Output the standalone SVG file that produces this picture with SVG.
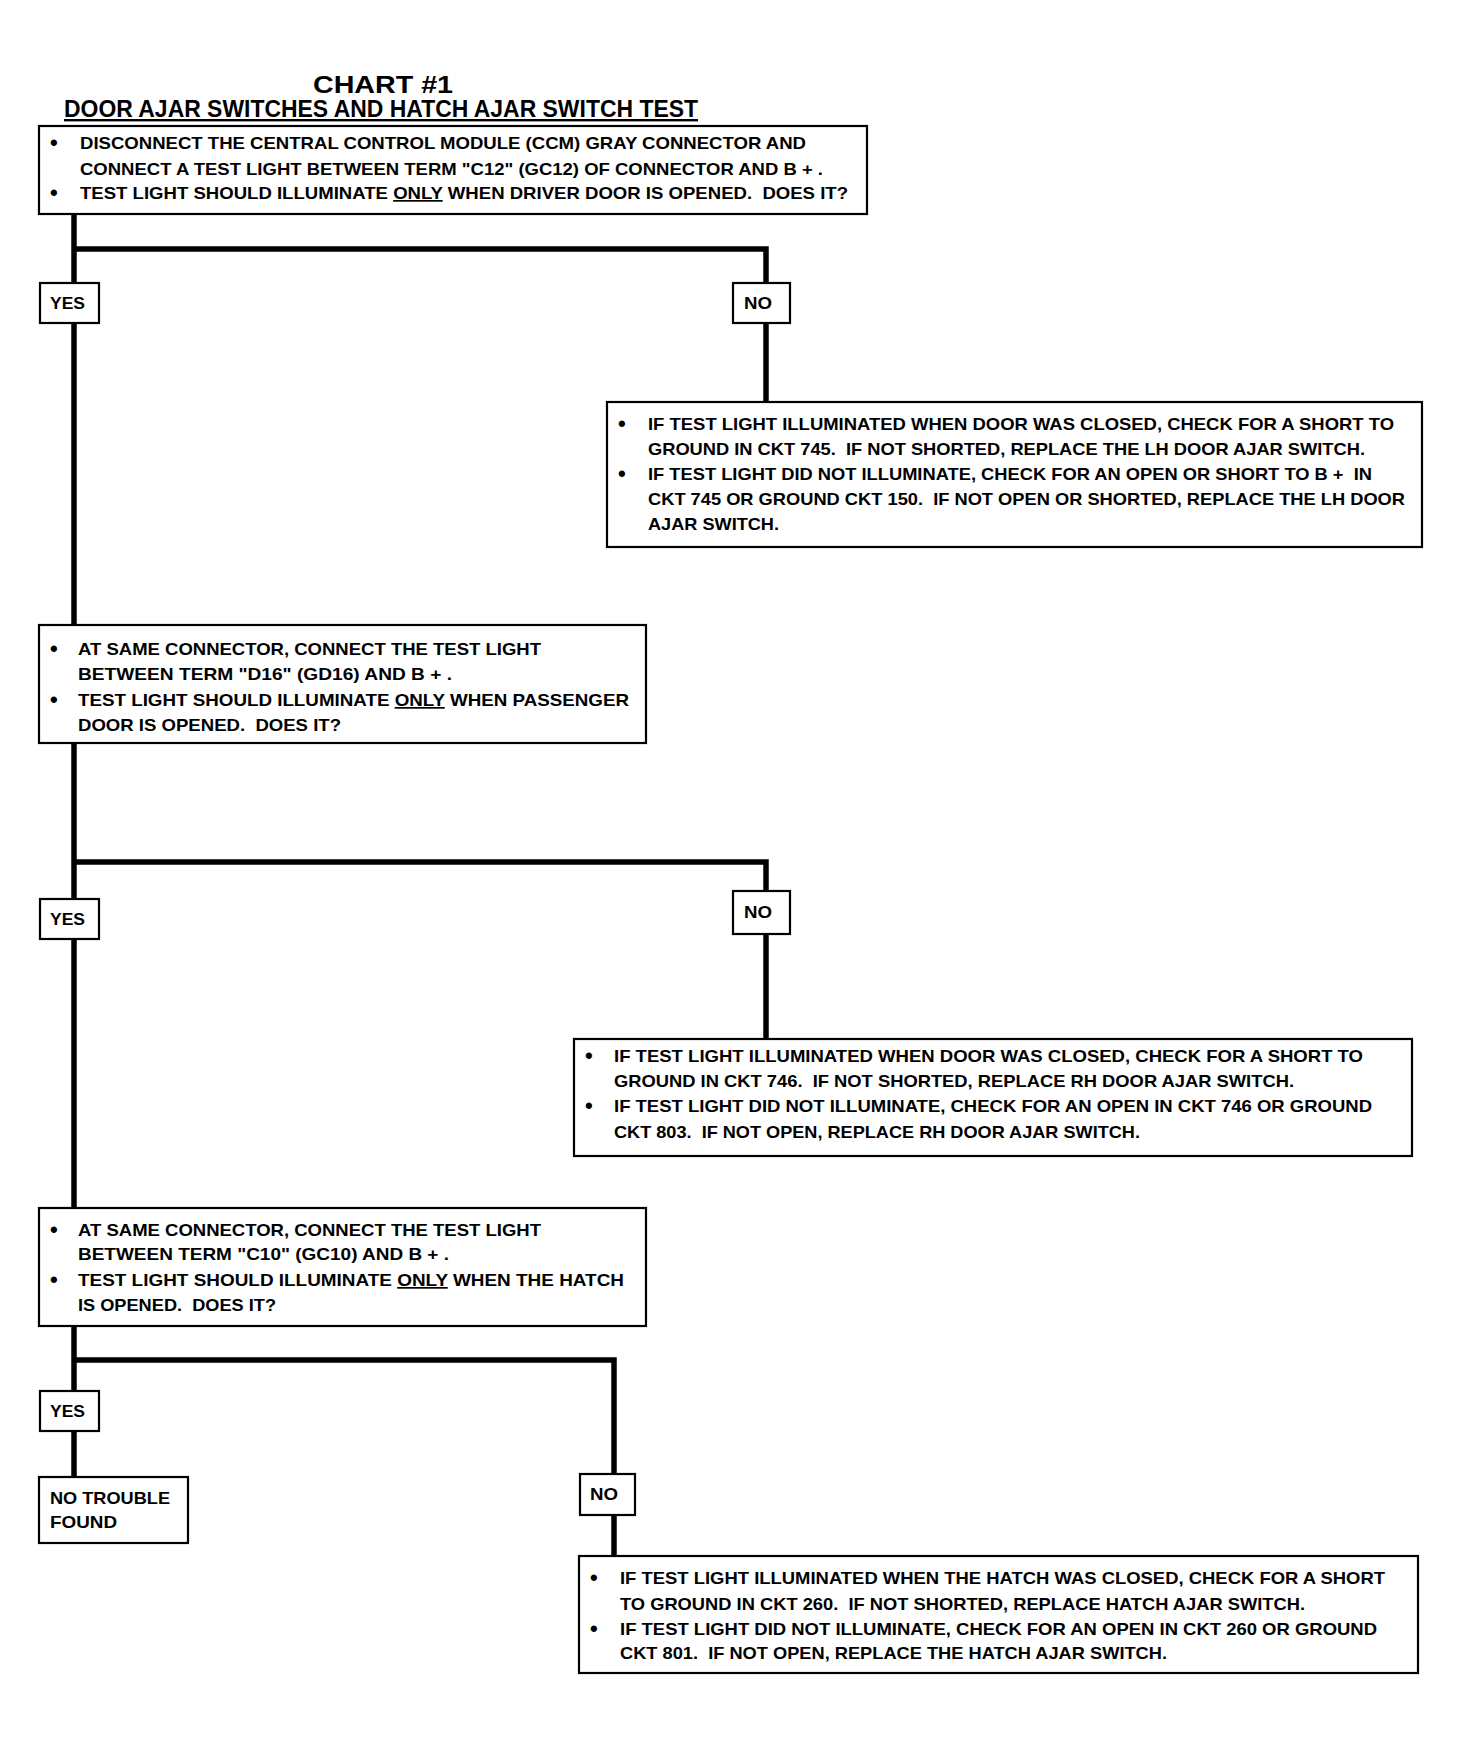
<svg xmlns="http://www.w3.org/2000/svg" width="1461" height="1752" viewBox="0 0 1461 1752">
<style>
.bg{fill:#fff}
.box{fill:#fff;stroke:#000;stroke-width:2.2}
.conn{fill:none;stroke:#000;stroke-width:5.5;stroke-linejoin:miter;stroke-linecap:butt}
.t{font-family:"Liberation Sans",Arial,sans-serif;font-weight:bold;font-size:17px;fill:#000;white-space:pre}
.b{font-family:"Liberation Sans",Arial,sans-serif;font-weight:bold;font-size:22px;fill:#000}
.title{font-family:"Liberation Sans",Arial,sans-serif;font-weight:bold;font-size:24px;fill:#000}
.u{text-decoration:underline}
</style>
<rect class="bg" x="0" y="0" width="1461" height="1752"/>
<g id="title">
<text class="title" x="313" y="93" textLength="140" lengthAdjust="spacingAndGlyphs">CHART #1</text>
<text class="title" x="64" y="117" textLength="634" lengthAdjust="spacingAndGlyphs" text-decoration="underline">DOOR AJAR SWITCHES AND HATCH AJAR SWITCH TEST</text>
</g>
<g id="connectors">
<polyline class="conn" points="74,214 74,283"/>
<polyline class="conn" points="74,249 766,249 766,283"/>
<polyline class="conn" points="766,323 766,402"/>
<polyline class="conn" points="74,323 74,625"/>
<polyline class="conn" points="74,743 74,899"/>
<polyline class="conn" points="74,862 766,862 766,891"/>
<polyline class="conn" points="766,934 766,1039"/>
<polyline class="conn" points="74,939 74,1208"/>
<polyline class="conn" points="74,1326 74,1391"/>
<polyline class="conn" points="74,1360 614,1360 614,1474"/>
<polyline class="conn" points="74,1431 74,1477"/>
<polyline class="conn" points="614,1515 614,1556"/>
</g>
<g id="q1">
<rect class="box" x="39" y="126" width="828" height="88"/>
<text class="b" x="50" y="150">•</text>
<text class="t" x="80" y="149" textLength="726" lengthAdjust="spacingAndGlyphs">DISCONNECT THE CENTRAL CONTROL MODULE (CCM) GRAY CONNECTOR AND</text>
<text class="t" x="80" y="175" textLength="743" lengthAdjust="spacingAndGlyphs">CONNECT A TEST LIGHT BETWEEN TERM "C12" (GC12) OF CONNECTOR AND B + .</text>
<text class="b" x="50" y="200">•</text>
<text class="t" x="80" y="199" textLength="768" lengthAdjust="spacingAndGlyphs">TEST LIGHT SHOULD ILLUMINATE <tspan class="u">ONLY</tspan> WHEN DRIVER DOOR IS OPENED.  DOES IT?</text>
</g>
<g id="yes1">
<rect class="box" x="40" y="283" width="59" height="40"/>
<text class="t" x="50" y="309" textLength="35" lengthAdjust="spacingAndGlyphs">YES</text>
</g>
<g id="no1">
<rect class="box" x="733" y="283" width="57" height="40"/>
<text class="t" x="744" y="309" textLength="28" lengthAdjust="spacingAndGlyphs">NO</text>
</g>
<g id="r1">
<rect class="box" x="607" y="402" width="815" height="145"/>
<text class="b" x="618" y="431">•</text>
<text class="t" x="648" y="430" textLength="746" lengthAdjust="spacingAndGlyphs">IF TEST LIGHT ILLUMINATED WHEN DOOR WAS CLOSED, CHECK FOR A SHORT TO</text>
<text class="t" x="648" y="455" textLength="717" lengthAdjust="spacingAndGlyphs">GROUND IN CKT 745.  IF NOT SHORTED, REPLACE THE LH DOOR AJAR SWITCH.</text>
<text class="b" x="618" y="481">•</text>
<text class="t" x="648" y="480" textLength="724" lengthAdjust="spacingAndGlyphs">IF TEST LIGHT DID NOT ILLUMINATE, CHECK FOR AN OPEN OR SHORT TO B +  IN</text>
<text class="t" x="648" y="505" textLength="757" lengthAdjust="spacingAndGlyphs">CKT 745 OR GROUND CKT 150.  IF NOT OPEN OR SHORTED, REPLACE THE LH DOOR</text>
<text class="t" x="648" y="530" textLength="131" lengthAdjust="spacingAndGlyphs">AJAR SWITCH.</text>
</g>
<g id="q2">
<rect class="box" x="39" y="625" width="607" height="118"/>
<text class="b" x="50" y="656">•</text>
<text class="t" x="78" y="655" textLength="463" lengthAdjust="spacingAndGlyphs">AT SAME CONNECTOR, CONNECT THE TEST LIGHT</text>
<text class="t" x="78" y="680" textLength="374" lengthAdjust="spacingAndGlyphs">BETWEEN TERM "D16" (GD16) AND B + .</text>
<text class="b" x="50" y="707">•</text>
<text class="t" x="78" y="706" textLength="551" lengthAdjust="spacingAndGlyphs">TEST LIGHT SHOULD ILLUMINATE <tspan class="u">ONLY</tspan> WHEN PASSENGER</text>
<text class="t" x="78" y="731" textLength="263" lengthAdjust="spacingAndGlyphs">DOOR IS OPENED.  DOES IT?</text>
</g>
<g id="yes2">
<rect class="box" x="40" y="899" width="59" height="40"/>
<text class="t" x="50" y="925" textLength="35" lengthAdjust="spacingAndGlyphs">YES</text>
</g>
<g id="no2">
<rect class="box" x="733" y="891" width="57" height="43"/>
<text class="t" x="744" y="918" textLength="28" lengthAdjust="spacingAndGlyphs">NO</text>
</g>
<g id="r2">
<rect class="box" x="574" y="1039" width="838" height="117"/>
<text class="b" x="585" y="1063">•</text>
<text class="t" x="614" y="1062" textLength="749" lengthAdjust="spacingAndGlyphs">IF TEST LIGHT ILLUMINATED WHEN DOOR WAS CLOSED, CHECK FOR A SHORT TO</text>
<text class="t" x="614" y="1087" textLength="680" lengthAdjust="spacingAndGlyphs">GROUND IN CKT 746.  IF NOT SHORTED, REPLACE RH DOOR AJAR SWITCH.</text>
<text class="b" x="585" y="1113">•</text>
<text class="t" x="614" y="1112" textLength="758" lengthAdjust="spacingAndGlyphs">IF TEST LIGHT DID NOT ILLUMINATE, CHECK FOR AN OPEN IN CKT 746 OR GROUND</text>
<text class="t" x="614" y="1138" textLength="526" lengthAdjust="spacingAndGlyphs">CKT 803.  IF NOT OPEN, REPLACE RH DOOR AJAR SWITCH.</text>
</g>
<g id="q3">
<rect class="box" x="39" y="1208" width="607" height="118"/>
<text class="b" x="50" y="1237">•</text>
<text class="t" x="78" y="1236" textLength="463" lengthAdjust="spacingAndGlyphs">AT SAME CONNECTOR, CONNECT THE TEST LIGHT</text>
<text class="t" x="78" y="1260" textLength="371" lengthAdjust="spacingAndGlyphs">BETWEEN TERM "C10" (GC10) AND B + .</text>
<text class="b" x="50" y="1287">•</text>
<text class="t" x="78" y="1286" textLength="546" lengthAdjust="spacingAndGlyphs">TEST LIGHT SHOULD ILLUMINATE <tspan class="u">ONLY</tspan> WHEN THE HATCH</text>
<text class="t" x="78" y="1311" textLength="198" lengthAdjust="spacingAndGlyphs">IS OPENED.  DOES IT?</text>
</g>
<g id="yes3">
<rect class="box" x="40" y="1391" width="59" height="40"/>
<text class="t" x="50" y="1417" textLength="35" lengthAdjust="spacingAndGlyphs">YES</text>
</g>
<g id="ntf">
<rect class="box" x="39" y="1477" width="149" height="66"/>
<text class="t" x="50" y="1504" textLength="120" lengthAdjust="spacingAndGlyphs">NO TROUBLE</text>
<text class="t" x="50" y="1528" textLength="67" lengthAdjust="spacingAndGlyphs">FOUND</text>
</g>
<g id="no3">
<rect class="box" x="580" y="1474" width="55" height="41"/>
<text class="t" x="590" y="1500" textLength="28" lengthAdjust="spacingAndGlyphs">NO</text>
</g>
<g id="r3">
<rect class="box" x="579" y="1556" width="839" height="117"/>
<text class="b" x="590" y="1585">•</text>
<text class="t" x="620" y="1584" textLength="765" lengthAdjust="spacingAndGlyphs">IF TEST LIGHT ILLUMINATED WHEN THE HATCH WAS CLOSED, CHECK FOR A SHORT</text>
<text class="t" x="620" y="1610" textLength="685" lengthAdjust="spacingAndGlyphs">TO GROUND IN CKT 260.  IF NOT SHORTED, REPLACE HATCH AJAR SWITCH.</text>
<text class="b" x="590" y="1636">•</text>
<text class="t" x="620" y="1635" textLength="757" lengthAdjust="spacingAndGlyphs">IF TEST LIGHT DID NOT ILLUMINATE, CHECK FOR AN OPEN IN CKT 260 OR GROUND</text>
<text class="t" x="620" y="1659" textLength="547" lengthAdjust="spacingAndGlyphs">CKT 801.  IF NOT OPEN, REPLACE THE HATCH AJAR SWITCH.</text>
</g>
</svg>
